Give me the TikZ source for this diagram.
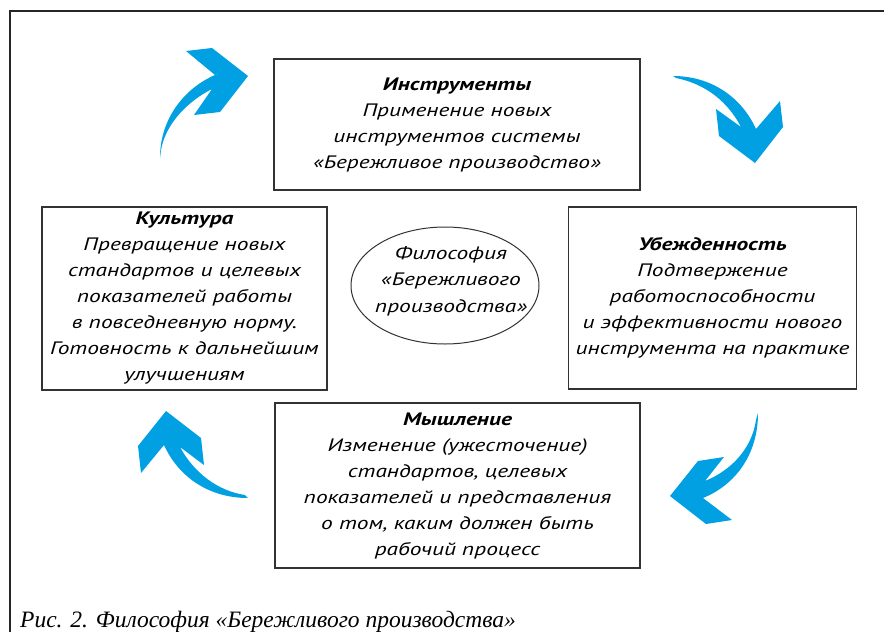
\documentclass[tikz,border=0pt]{standalone}
\usepackage{fontspec}
\setmainfont{PT Sans}[FakeStretch=1.3]
\newfontfamily\capfont{Liberation Serif}
\definecolor{arrowblue}{RGB}{0,160,227}
\definecolor{boxline}{RGB}{50,50,50}
\tikzset{
  box/.style={draw=boxline, line width=1.2pt, align=center, inner sep=0pt,
    font=\fontsize{18}{26}\selectfont\itshape},
  elltext/.style={align=center, inner sep=0pt,
    font=\fontsize{18}{26.5}\selectfont\itshape},
  ellline/.style={draw=boxline, line width=1pt},
  bent/.style={fill=arrowblue}
}
\begin{document}
\begin{tikzpicture}[x=1pt,y=-1pt]
\useasboundingbox (0,0) rectangle (884,632);
\draw[line width=1.3pt, black!85] (884,11) -- (10,11) -- (10,632);

\node[box, minimum width=366, minimum height=131] (instr) at (457,124.5)
  {\textbf{Инструменты}\\Применение новых\\инструментов системы\\«Бережливое производство»};
\node[box, minimum width=285, minimum height=183] (kult) at (184.5,298.5)
  {\textbf{Культура}\\Превращение новых\\стандартов и целевых\\показателей работы\\в повседневную норму.\\Готовность к дальнейшим\\улучшениям};
\node[box, minimum width=288, minimum height=182] (ubezh) at (712.5,298)
  {\textbf{Убежденность}\\Подтвержение\\работоспособности\\и эффективности нового\\инструмента на практике};
\node[box, minimum width=365, minimum height=165] (mysh) at (457.5,485.5)
  {\textbf{Мышление}\\Изменение (ужесточение)\\стандартов, целевых\\показателей и представления\\о том, каким должен быть\\рабочий процесс};
\coordinate (ellc) at (445,285.5);
\draw[ellline] (ellc) ellipse [x radius=94, y radius=58.5];
\node[elltext] (phil) at (451,281)
  {Философия\\«Бережливого\\производства»};

% top-left arrow
\fill[bent] (160,158) .. controls (160,118) and (185,88) .. (215,75)
  -- (186,51) -- (212,48) -- (248,76) -- (220,112) -- (194,115) -- (212,89)
  .. controls (190,100) and (166,122) .. (161,150) -- cycle;
% top-right arrow
\fill[bent] (673,76) .. controls (712,76) and (742,98) .. (756,129)
  -- (780,101) -- (783,127) -- (755,163) -- (719,136) -- (716,109) -- (741,127)
  .. controls (728,102) and (706,84) .. (676,78) -- cycle;
% bottom-right arrow
\fill[bent] (758,413) .. controls (758,455) and (735,485) .. (703,498)
  -- (732,520) -- (706,524) -- (670,496) -- (698,461) -- (724,457) -- (705,481)
  .. controls (732,470) and (752,448) .. (756,420) -- cycle;
% bottom-left arrow
\fill[bent] (248,498) .. controls (208,498) and (178,476) .. (164,445)
  -- (141,473) -- (138,446) -- (166,411) -- (201,438) -- (204,465) -- (180,447)
  .. controls (194,473) and (218,491) .. (245,495) -- cycle;

\node[anchor=base west, inner sep=0pt, font=\capfont\itshape\fontsize{23.5}{25}\selectfont] (cap) at (20,627)
  {Рис. 2. Философия «Бережливого производства»};
\end{tikzpicture}
\end{document}
